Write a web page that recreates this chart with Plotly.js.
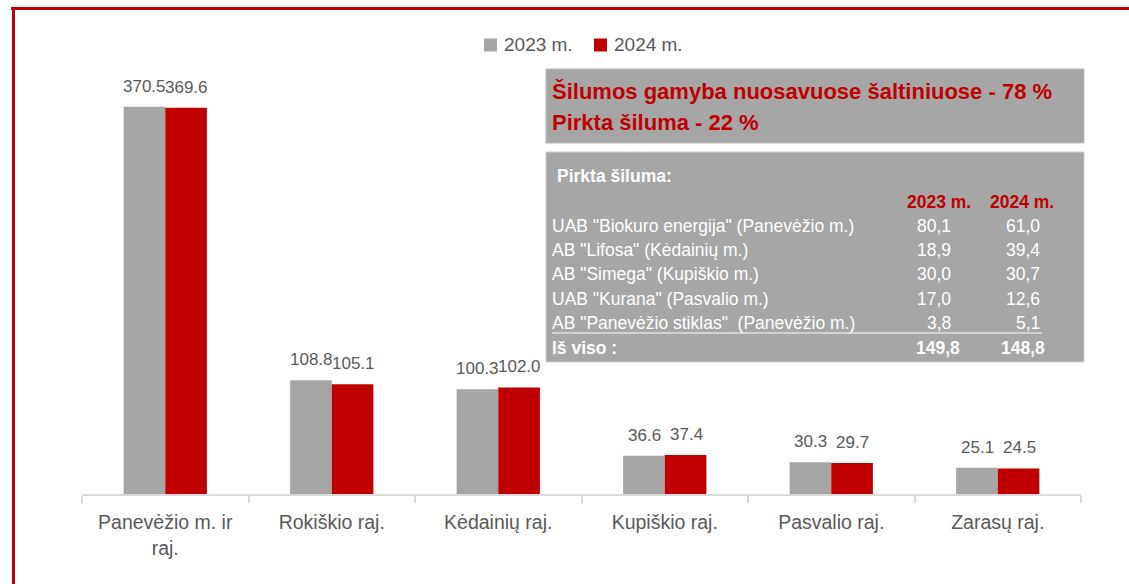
<!DOCTYPE html>
<html><head><meta charset="utf-8">
<script src="https://cdn.plot.ly/plotly-3.0.1.min.js"></script>
<style>html,body{margin:0;padding:0;background:#fff;}#chart{width:1129px;height:584px;}</style>
</head><body><div id="chart"></div>
<script>
// ---- data ----
const categories = ['Panevėžio m. ir raj.', 'Rokiškio raj.', 'Kėdainių raj.', 'Kupiškio raj.', 'Pasvalio raj.', 'Zarasų raj.'];
const tickLabels = ['Panevėžio m. ir<br>raj.', 'Rokiškio raj.', 'Kėdainių raj.', 'Kupiškio raj.', 'Pasvalio raj.', 'Zarasų raj.'];
const seriesNames = ['2023 m.', '2024 m.'];
const values2023 = [370.5, 108.8, 100.3, 36.6, 30.3, 25.1];
const values2024 = [369.6, 105.1, 102.0, 37.4, 29.7, 24.5];

const boxTitleLines = ['Šilumos gamyba nuosavuose šaltiniuose - 78 %', 'Pirkta šiluma - 22 %'];
const tableTitle = 'Pirkta šiluma:';
const tableHeaders = ['2023 m.', '2024 m.'];
const tableRows = ['UAB "Biokuro energija" (Panevėžio m.)', 'AB "Lifosa" (Kėdainių m.)', 'AB "Simega" (Kupiškio m.)', 'UAB "Kurana" (Pasvalio m.)', 'AB "Panevėžio stiklas"  (Panevėžio m.)'];
const table2023 = ['80,1', '18,9', '30,0', '17,0', '3,8'];
const table2024 = ['61,0', '39,4', '30,7', '12,6', '5,1'];
const totalLabel = 'Iš viso :';
const total2023 = '149,8';
const total2024 = '148,8';

// ---- styling / layout helpers ----
const GRAY = '#a6a6a6', RED = '#c00000', TXT = '#595959';
const FONT = '"Liberation Sans", Arial, sans-serif';
const L = 82, R = 1081, T = 76, B = 494;
const px = v => (v - L) / (R - L);
const py = v => (B - v) / (B - T);
const colors = [GRAY, RED];

const traces = [
  {type: 'bar', name: seriesNames[0], x: categories, y: values2023, marker: {color: GRAY}, hoverinfo: 'none'},
  {type: 'bar', name: seriesNames[1], x: categories, y: values2024, marker: {color: RED}, hoverinfo: 'none'}
];

const annotations = [];
[values2023, values2024].forEach((vals, s) => {
  vals.forEach((v, i) => {
    annotations.push({x: categories[i], y: v, xref: 'x', yref: 'y', text: v.toFixed(1), showarrow: false,
      yanchor: 'bottom', xshift: s === 0 ? -20.75 : 21.5, yshift: 9,
      font: {family: FONT, size: 17, color: TXT}});
  });
});

const shapes = [
  // outer red frame (top and left)
  {type: 'line', xref: 'paper', yref: 'paper', x0: px(11), x1: px(1135), y0: py(8.5), y1: py(8.5), line: {color: RED, width: 3}},
  {type: 'line', xref: 'paper', yref: 'paper', x0: px(13.5), x1: px(13.5), y0: py(7), y1: py(590), line: {color: RED, width: 3}},
  // boxes
  {type: 'rect', xref: 'paper', yref: 'paper', x0: px(546), x1: px(1084), y0: py(69), y1: py(143), fillcolor: GRAY, line: {color: '#bdbdbd', width: 1}, layer: 'above'},
  {type: 'rect', xref: 'paper', yref: 'paper', x0: px(546), x1: px(1084), y0: py(152), y1: py(362), fillcolor: GRAY, line: {color: '#cfcfcf', width: 1}, layer: 'above'},
  // underline below last row
  {type: 'line', xref: 'paper', yref: 'paper', x0: px(552), x1: px(1042), y0: py(333), y1: py(333), line: {color: '#ffffff', width: 1}, layer: 'above'}
];

// manual legend
const legendX = [484, 594];
seriesNames.forEach((n, s) => {
  shapes.push({type: 'rect', xref: 'paper', yref: 'paper', x0: px(legendX[s]), x1: px(legendX[s] + 13),
    y0: py(38.5), y1: py(51.5), fillcolor: colors[s], line: {width: 0}});
  annotations.push({xref: 'paper', yref: 'paper', x: px(legendX[s] + 18), y: py(45), text: n, showarrow: false,
    xanchor: 'left', yanchor: 'middle', font: {family: FONT, size: 19, color: TXT}});
});

function ann(text, x, y, anchor, font) {
  annotations.push({xref: 'paper', yref: 'paper', x: px(x), y: py(y), text: text, showarrow: false,
    xanchor: anchor, yanchor: 'middle', font: font});
}
boxTitleLines.forEach((t, i) => ann('<b>' + t + '</b>', 550, 92 + i * 30, 'left', {family: FONT, size: 22, color: RED}));
ann('<b>' + tableTitle + '</b>', 555, 176, 'left', {family: FONT, size: 17.5, color: '#ffffff'});
ann('<b>' + tableHeaders[0] + '</b>', 973, 202, 'right', {family: FONT, size: 17.5, color: RED});
ann('<b>' + tableHeaders[1] + '</b>', 1056, 202, 'right', {family: FONT, size: 17.5, color: RED});
tableRows.forEach((r, i) => {
  const y = 226 + i * 24.2;
  const f = {family: FONT, size: 17.5, color: '#ffffff'};
  ann(r, 550, y, 'left', f);
  ann(table2023[i], 953, y, 'right', f);
  ann(table2024[i], 1042, y, 'right', f);
});
ann('<b>' + totalLabel + '</b>', 550, 348, 'left', {family: FONT, size: 17.5, color: '#ffffff'});
ann('<b>' + total2023 + '</b>', 962, 348, 'right', {family: FONT, size: 17.5, color: '#ffffff'});
ann('<b>' + total2024 + '</b>', 1047, 348, 'right', {family: FONT, size: 17.5, color: '#ffffff'});

const layout = {
  width: 1129, height: 584,
  margin: {l: L, r: 1129 - R, t: T, b: 584 - B},
  paper_bgcolor: '#ffffff', plot_bgcolor: '#ffffff',
  barmode: 'group', bargap: 0.5, bargroupgap: 0,
  showlegend: false,
  xaxis: {type: 'category', tickmode: 'array', tickvals: categories, ticktext: tickLabels, tickangle: 0,
    showline: true, linecolor: '#d9d9d9', linewidth: 2, ticks: 'outside', tickson: 'boundaries',
    ticklen: 7, tickwidth: 2, tickcolor: '#d9d9d9', showgrid: false, zeroline: false, ticklabelstandoff: 10,
    tickfont: {family: FONT, size: 19.5, color: TXT}, automargin: false, fixedrange: true},
  yaxis: {range: [0, 400], visible: false, showgrid: false, zeroline: false, fixedrange: true},
  shapes: shapes,
  annotations: annotations
};
Plotly.newPlot('chart', traces, layout, {displayModeBar: false, staticPlot: true});
</script></body></html>
